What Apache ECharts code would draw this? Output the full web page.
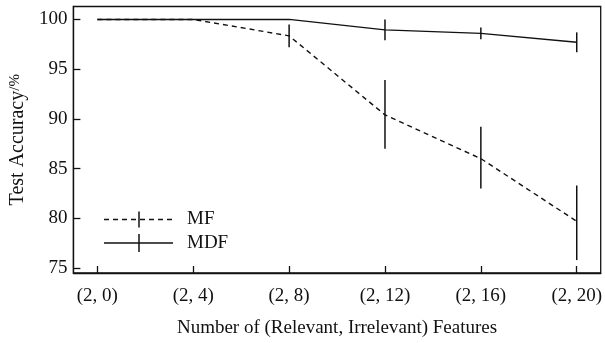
<!DOCTYPE html>
<html>
<head>
<meta charset="utf-8">
<script src="https://cdn.jsdelivr.net/npm/echarts@6/dist/echarts.min.js"></script>
<style>
  html, body { margin: 0; padding: 0; background: #fff; }
  #chart { width: 605px; height: 343px; }
</style>
</head>
<body>
<div id="chart"></div>
<script>
// Number of irrelevant features (relevant features fixed at 2)
const irrelevant = [0, 4, 8, 12, 16, 20];
const tickLabels = ['(2, 0)', '(2, 4)', '(2, 8)', '(2, 12)', '(2, 16)', '(2, 20)'];
const yTicks = [75, 80, 85, 90, 95, 100];

// Mean test accuracy (%) and error-bar extents
const mfMean = [100, 100, 98.35, 90.4, 86.0, 79.7];
const mfLow  = [100, 100, 97.2, 87.0, 83.0, 75.8];
const mfHigh = [100, 100, 99.5, 93.9, 89.2, 83.3];

const mdfMean = [100, 100, 100, 98.95, 98.6, 97.7];
const mdfLow  = [100, 100, 100, 97.9, 98.0, 96.7];
const mdfHigh = [100, 100, 100, 100.0, 99.2, 98.7];

const FONT = 'Liberation Serif, Times New Roman, serif';
const INK = '#111';

function pairs(xs, ys) { return xs.map((x, i) => [x, ys[i]]); }
function bars(xs, lo, hi) {
  return xs.map((x, i) => [x, lo[i], hi[i]]).filter(d => d[2] > d[1]);
}

function errorBarSeries(name, data) {
  return {
    name: name,
    type: 'custom',
    silent: true,
    z: 3,
    data: data,
    encode: { x: 0, y: [1, 2] },
    renderItem: function (params, api) {
      const x = api.value(0);
      const p1 = api.coord([x, api.value(1)]);
      const p2 = api.coord([x, api.value(2)]);
      return {
        type: 'line',
        shape: { x1: p1[0], y1: p1[1], x2: p2[0], y2: p2[1] },
        style: { stroke: INK, lineWidth: 1.5 }
      };
    }
  };
}

const chart = echarts.init(document.getElementById('chart'), null, { renderer: 'canvas' });

const legendY1 = 219.5, legendY2 = 243;
chart.setOption({
  animation: false,
  backgroundColor: '#fff',
  grid: {
    left: 72, right: 2.5, top: 6.5, bottom: 63,
    show: true, borderColor: INK, borderWidth: 1.3, backgroundColor: 'transparent'
  },
  xAxis: {
    type: 'value',
    min: -1, max: 21,
    splitLine: { show: false },
    axisLine: { onZero: false, lineStyle: { color: INK, width: 1.3 } },
    axisTick: { inside: true, length: 7, customValues: irrelevant, lineStyle: { color: INK, width: 1.3 } },
    axisLabel: {
      customValues: irrelevant,
      formatter: v => tickLabels[irrelevant.indexOf(v)],
      color: INK, fontFamily: FONT, fontSize: 19, margin: 14
    },
    name: 'Number of (Relevant, Irrelevant) Features',
    nameLocation: 'middle',
    nameGap: 46,
    nameTextStyle: { color: INK, fontFamily: FONT, fontSize: 19 }
  },
  yAxis: {
    type: 'value',
    min: 74.5, max: 101.3,
    splitLine: { show: false },
    axisLine: { onZero: false, lineStyle: { color: INK, width: 1.3 } },
    axisTick: { inside: true, length: 7, customValues: yTicks, lineStyle: { color: INK, width: 1.3 } },
    axisLabel: {
      customValues: yTicks,
      color: INK, fontFamily: FONT, fontSize: 19, margin: 6
    },
    name: '{a|Test Accuracy}{b|/%}',
    nameLocation: 'middle',
    nameGap: 42,
    nameTextStyle: {
      rich: {
        a: { color: INK, fontFamily: FONT, fontSize: 20 },
        b: { color: INK, fontFamily: FONT, fontSize: 15, verticalAlign: 'top', padding: [0, 0, 4, 0] }
      }
    }
  },
  series: [
    {
      name: 'MF', type: 'line', data: pairs(irrelevant, mfMean),
      symbol: 'none', z: 2,
      lineStyle: { color: INK, width: 1.4, type: [5, 4] }
    },
    {
      name: 'MDF', type: 'line', data: pairs(irrelevant, mdfMean),
      symbol: 'none', z: 2,
      lineStyle: { color: INK, width: 1.4, type: 'solid' }
    },
    errorBarSeries('MF', bars(irrelevant, mfLow, mfHigh)),
    errorBarSeries('MDF', bars(irrelevant, mdfLow, mdfHigh))
  ],
  graphic: [
    { type: 'line', shape: { x1: 104, y1: legendY1, x2: 173, y2: legendY1 },
      style: { stroke: INK, lineWidth: 1.4, lineDash: [5, 4] } },
    { type: 'line', shape: { x1: 139, y1: legendY1 - 8, x2: 139, y2: legendY1 + 8 },
      style: { stroke: INK, lineWidth: 1.5 } },
    { type: 'text', x: 187, y: legendY1, style: { text: 'MF', fill: INK, font: '19px ' + FONT, verticalAlign: 'middle' } },
    { type: 'line', shape: { x1: 104, y1: legendY2, x2: 173, y2: legendY2 },
      style: { stroke: INK, lineWidth: 1.4 } },
    { type: 'line', shape: { x1: 139, y1: legendY2 - 9, x2: 139, y2: legendY2 + 9 },
      style: { stroke: INK, lineWidth: 1.5 } },
    { type: 'text', x: 187, y: legendY2, style: { text: 'MDF', fill: INK, font: '19px ' + FONT, verticalAlign: 'middle' } }
  ]
});
</script>
</body>
</html>
